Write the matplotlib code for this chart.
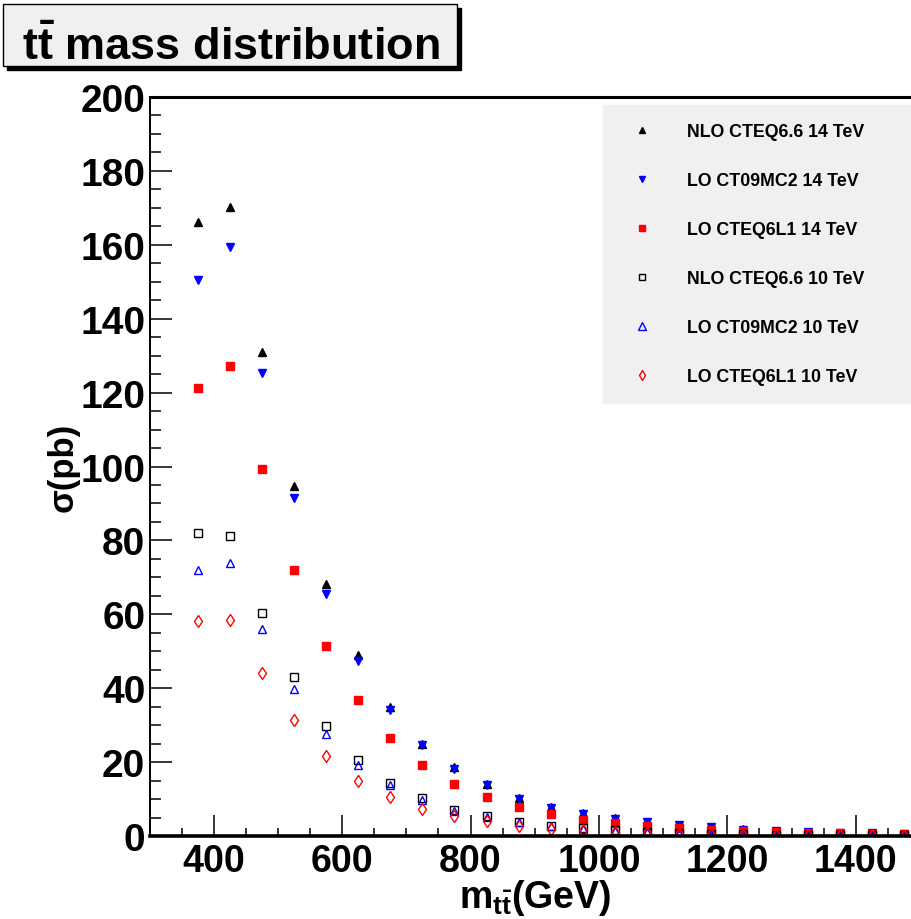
import matplotlib
matplotlib.use("Agg")
import matplotlib.pyplot as plt
from matplotlib.patches import Rectangle
from matplotlib.ticker import MultipleLocator

plt.rcParams['font.family'] = ['Liberation Sans', 'DejaVu Sans']
plt.rcParams['mathtext.fontset'] = 'custom'
plt.rcParams['mathtext.rm'] = 'Liberation Sans:bold'
plt.rcParams['mathtext.bf'] = 'Liberation Sans:bold'
plt.rcParams['mathtext.it'] = 'Liberation Sans:bold'

# bin centres (GeV)
mass = [375, 425, 475, 525, 575, 625, 675, 725, 775, 825, 875, 925,
        975, 1025, 1075, 1125, 1175, 1225, 1275, 1325, 1375, 1425, 1475]

nlo_cteq66_14 = [166.1, 170.2, 131.1, 94.6, 68.3, 48.9, 34.9, 24.9, 18.6, 14.1, 10.3, 7.9,
                 6.1, 4.8, 3.8, 3.0, 2.4, 1.8, 1.4, 1.1, 0.9, 0.7, 0.55]
lo_ct09mc2_14 = [150.5, 159.3, 125.2, 91.6, 65.6, 47.3, 34.1, 24.7, 18.2, 13.7, 10.1, 7.7,
                 6.0, 4.7, 3.7, 2.9, 2.4, 1.7, 1.4, 1.1, 0.9, 0.7, 0.5]
lo_cteq6l1_14 = [121.2, 127.2, 99.3, 72.1, 51.4, 36.7, 26.4, 19.2, 14.1, 10.5, 7.8, 5.9,
                 4.4, 3.5, 2.6, 2.1, 1.7, 1.4, 1.1, 0.9, 0.7, 0.55, 0.45]
nlo_cteq66_10 = [82.1, 81.2, 60.4, 43.0, 29.9, 20.7, 14.4, 10.3, 7.1, 5.5, 3.9, 2.8,
                 2.1, 1.5, 1.1, 0.8, 0.6, 0.5, 0.4, 0.3, 0.25, 0.2, 0.15]
lo_ct09mc2_10 = [71.9, 73.8, 55.9, 39.8, 27.7, 19.1, 13.7, 9.8, 6.9, 5.1, 3.8, 2.7,
                 2.0, 1.4, 1.0, 0.8, 0.6, 0.45, 0.35, 0.3, 0.25, 0.2, 0.15]
lo_cteq6l1_10 = [58.3, 58.5, 44.2, 31.3, 21.6, 15.0, 10.6, 7.3, 5.3, 4.0, 2.6, 2.0,
                 1.6, 1.1, 0.8, 0.6, 0.5, 0.4, 0.3, 0.25, 0.2, 0.15, 0.1]

labels = ["NLO CTEQ6.6 14 TeV", "LO CT09MC2 14 TeV", "LO CTEQ6L1 14 TeV",
          "NLO CTEQ6.6 10 TeV", "LO CT09MC2 10 TeV", "LO CTEQ6L1 10 TeV"]

W, H = 911, 920
fig = plt.figure(figsize=(W / 100, H / 100), dpi=100)
fig.patch.set_facecolor('white')

ax = fig.add_axes([149.5 / W, 1 - 837 / H, (920 - 149.5) / W, (837 - 98) / H])
ax.set_facecolor('white')

ms = 5.8
ax.plot(mass, nlo_cteq66_14, ls='none', marker='^', ms=ms, color='black', mec='black', label=labels[0])
ax.plot(mass, lo_ct09mc2_14, ls='none', marker='v', ms=ms, color='blue', mec='blue', label=labels[1])
ax.plot(mass, lo_cteq6l1_14, ls='none', marker='s', ms=ms, color='red', mec='red', label=labels[2])
ax.plot(mass, nlo_cteq66_10, ls='none', marker='s', ms=ms, mfc='none', mec='black', mew=1.0, label=labels[3])
ax.plot(mass, lo_ct09mc2_10, ls='none', marker='^', ms=ms + 0.6, mfc='none', mec='blue', mew=1.0, label=labels[4])
ax.plot(mass, lo_cteq6l1_10, ls='none', marker='d', ms=ms + 0.6, mfc='none', mec='red', mew=1.0, label=labels[5])

ax.set_xlim(300, 1500)
ax.set_ylim(0, 200)
ax.xaxis.set_major_locator(MultipleLocator(200))
ax.xaxis.set_minor_locator(MultipleLocator(50))
ax.yaxis.set_major_locator(MultipleLocator(20))
ax.yaxis.set_minor_locator(MultipleLocator(5))
ax.tick_params(axis='both', which='both', direction='in', top=False, right=False, width=1.1)
ax.tick_params(axis='x', which='major', length=15, pad=5, labelsize=27)
ax.tick_params(axis='x', which='minor', length=6)
ax.tick_params(axis='y', which='major', length=16, pad=3, labelsize=28)
ax.tick_params(axis='y', which='minor', length=8)
for lab in ax.get_xticklabels() + ax.get_yticklabels():
    lab.set_fontweight('bold')

ax.spines['top'].set_linewidth(2.2)
ax.spines['bottom'].set_linewidth(2.6)
ax.spines['left'].set_linewidth(1.4)
ax.spines['right'].set_visible(False)

ax.set_xlabel(r'$\mathbf{m_{t\bar{t}}}$(GeV)', fontsize=27, fontweight='bold', labelpad=-2)
ax.xaxis.set_label_coords((535 - 149.5) / (920 - 149.5), -0.055)
ax.set_ylabel('σ(pb)', fontsize=25, fontweight='bold')
ax.yaxis.set_label_coords(-(149.5 - 80) / (920 - 149.5), (837 - 467) / (837 - 98))

leg_h = 0.01
ax.legend(loc='upper left',
          bbox_to_anchor=(602.7 / W, 1 - 106 / H - leg_h, 1 - 602.7 / W + 0.02, leg_h),
          bbox_transform=fig.transFigure, mode='expand', frameon=True, fancybox=False,
          facecolor='#f0f0f0', edgecolor='#f0f0f0', framealpha=1,
          prop={'weight': 'bold', 'size': 12.8}, numpoints=1, markerscale=0.85,
          labelspacing=1.80, handlelength=2.4, handletextpad=1.35, borderpad=1.0,
          borderaxespad=0)

# title box with shadow
fig.patches.append(Rectangle((7 / W, 1 - 71 / H), (457 - 3) / W, (67 - 5) / H,
                             transform=fig.transFigure, facecolor='black', edgecolor='black', zorder=1))
fig.patches.append(Rectangle((3 / W, 1 - 67 / H), (457 - 3) / W, (67 - 5) / H,
                             transform=fig.transFigure, facecolor='#f0f0f0', edgecolor='black',
                             linewidth=1.0, zorder=2))
fig.text(231 / W, 1 - 47 / H, r'$\mathbf{t\bar{t}}$ mass distribution', fontsize=32.5,
         fontweight='bold', ha='center', va='center', zorder=3)

fig.savefig('out.png', dpi=100, facecolor='white')
